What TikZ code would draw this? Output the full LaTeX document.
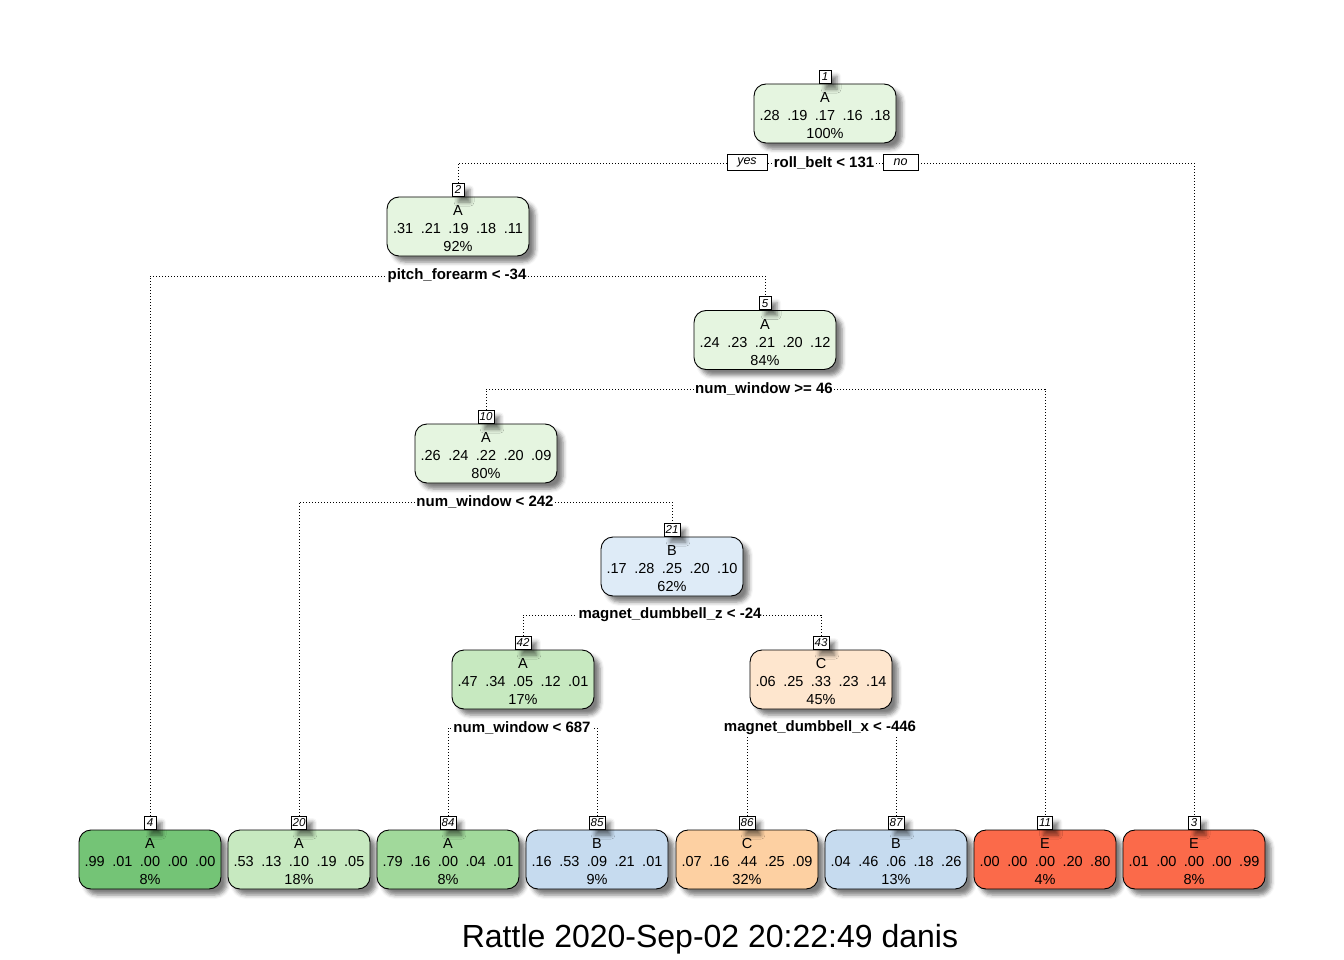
\documentclass[tikz,border=0pt]{standalone}
\usepackage{fontspec}
\setmainfont{Liberation Sans}
\usetikzlibrary{shadows.blur}
\pgfdeclarelayer{background}
\pgfsetlayers{background,main}

% fill colours of the tree nodes
\definecolor{paleA}{HTML}{E5F5E0}
\definecolor{lightA}{HTML}{C7E9C0}
\definecolor{midA}{HTML}{A1D99B}
\definecolor{darkA}{HTML}{74C476}
\definecolor{paleB}{HTML}{DEEBF7}
\definecolor{lightB}{HTML}{C6DBEF}
\definecolor{paleC}{HTML}{FEE6CE}
\definecolor{lightC}{HTML}{FDD0A2}
\definecolor{strongE}{HTML}{FB6A4A}

\tikzset{
  boxshadow/.style={blur shadow={shadow xshift=6pt, shadow yshift=-6pt,
      shadow blur radius=4pt, shadow opacity=50}},
  tnode/.style={draw=black, line width=0.9pt, rounded corners=12pt,
      minimum width=142pt, minimum height=59pt, inner sep=0pt, boxshadow},
  tntext/.style={align=center, inner sep=0pt,
      font=\fontsize{14.5}{18}\selectfont},
  numbox/.style={draw=black, fill=white, line width=0.8pt, anchor=south,
      font=\fontsize{11.5}{11.5}\selectfont\itshape, inner sep=1.5pt,
      minimum width=12pt, minimum height=13pt, boxshadow},
  splitlab/.style={fill=white, inner sep=1.5pt,
      font=\fontsize{15}{15}\selectfont\bfseries},
  yesno/.style={draw=black, fill=white, line width=0.8pt, inner sep=1pt,
      minimum height=16pt, font=\fontsize{12.5}{12.5}\selectfont\itshape},
  conn/.style={line width=0.9pt, dash pattern=on 1pt off 2pt},
}

% one tree node: name, x, y, fill, class, class probabilities, share, node number
\newcommand{\treebox}[8]{%
  \node[tnode, fill=#4] (#1) at (#2,#3) {};
  \node[tntext] (#1txt) at (#2,{#3+2.5}) {#5\\#6\\#7};
  \node[numbox] (#1num) at (#1.north) {#8};
}
\newcommand{\pr}[5]{#1\hspace{7.5pt}#2\hspace{7.5pt}#3\hspace{7.5pt}#4\hspace{7.5pt}#5}

\begin{document}
\begin{tikzpicture}[x=1pt, y=-1pt]
\useasboundingbox (0,0) rectangle (1344,960);

% inner nodes
\treebox{n1}{825}{113.5}{paleA}{A}{\pr{.28}{.19}{.17}{.16}{.18}}{100\%}{1}
\treebox{n2}{458}{226.5}{paleA}{A}{\pr{.31}{.21}{.19}{.18}{.11}}{92\%}{2}
\treebox{n5}{765}{340}{paleA}{A}{\pr{.24}{.23}{.21}{.20}{.12}}{84\%}{5}
\treebox{n10}{486}{453.5}{paleA}{A}{\pr{.26}{.24}{.22}{.20}{.09}}{80\%}{10}
\treebox{n21}{672}{566.5}{paleB}{B}{\pr{.17}{.28}{.25}{.20}{.10}}{62\%}{21}
\treebox{n42}{523}{679.5}{lightA}{A}{\pr{.47}{.34}{.05}{.12}{.01}}{17\%}{42}
\treebox{n43}{821}{679.5}{paleC}{C}{\pr{.06}{.25}{.33}{.23}{.14}}{45\%}{43}

% leaves
\treebox{n4}{150}{859.5}{darkA}{A}{\pr{.99}{.01}{.00}{.00}{.00}}{8\%}{4}
\treebox{n20}{299}{859.5}{lightA}{A}{\pr{.53}{.13}{.10}{.19}{.05}}{18\%}{20}
\treebox{n84}{448}{859.5}{midA}{A}{\pr{.79}{.16}{.00}{.04}{.01}}{8\%}{84}
\treebox{n85}{597}{859.5}{lightB}{B}{\pr{.16}{.53}{.09}{.21}{.01}}{9\%}{85}
\treebox{n86}{747}{859.5}{lightC}{C}{\pr{.07}{.16}{.44}{.25}{.09}}{32\%}{86}
\treebox{n87}{896}{859.5}{lightB}{B}{\pr{.04}{.46}{.06}{.18}{.26}}{13\%}{87}
\treebox{n11}{1045}{859.5}{strongE}{E}{\pr{.00}{.00}{.00}{.20}{.80}}{4\%}{11}
\treebox{n3}{1194}{859.5}{strongE}{E}{\pr{.01}{.00}{.00}{.00}{.99}}{8\%}{3}

% split conditions
\node[splitlab] (s1) at (824,163) {roll\_belt < 131};
\node[yesno, minimum width=40pt] (yes) at (747,162.5) {yes};
\node[yesno, minimum width=35pt] (no) at (900.5,162.5) {no};
\node[splitlab] (s2) at (457,276) {pitch\_forearm < -34};
\node[splitlab] (s5) at (764,389) {num\_window >= 46};
\node[splitlab] (s10) at (485,502) {num\_window < 242};
\node[splitlab] (s21) at (670,615) {magnet\_dumbbell\_z < -24};
\node[splitlab] (s42) at (522,728) {num\_window < 687};
\node[splitlab] (s43) at (820,728) {magnet\_dumbbell\_x < -446};

% dotted branches
\begin{pgfonlayer}{background}
  \draw[conn] (n2num.north) |- (s1.center) -| (n3num.north);
  \draw[conn] (n4num.north) |- (s2.center) -| (n5num.north);
  \draw[conn] (n10num.north) |- (s5.center) -| (n11num.north);
  \draw[conn] (n20num.north) |- (s10.center) -| (n21num.north);
  \draw[conn] (n42num.north) |- (s21.center) -| (n43num.north);
  \draw[conn] (n84num.north) |- (s42.center) -| (n85num.north);
  \draw[conn] (n86num.north) |- (s43.center) -| (n87num.north);
\end{pgfonlayer}

% caption
\node[font=\fontsize{32}{32}\selectfont] (title) at (710,939) {Rattle 2020-Sep-02 20:22:49 danis};
\end{tikzpicture}
\end{document}
